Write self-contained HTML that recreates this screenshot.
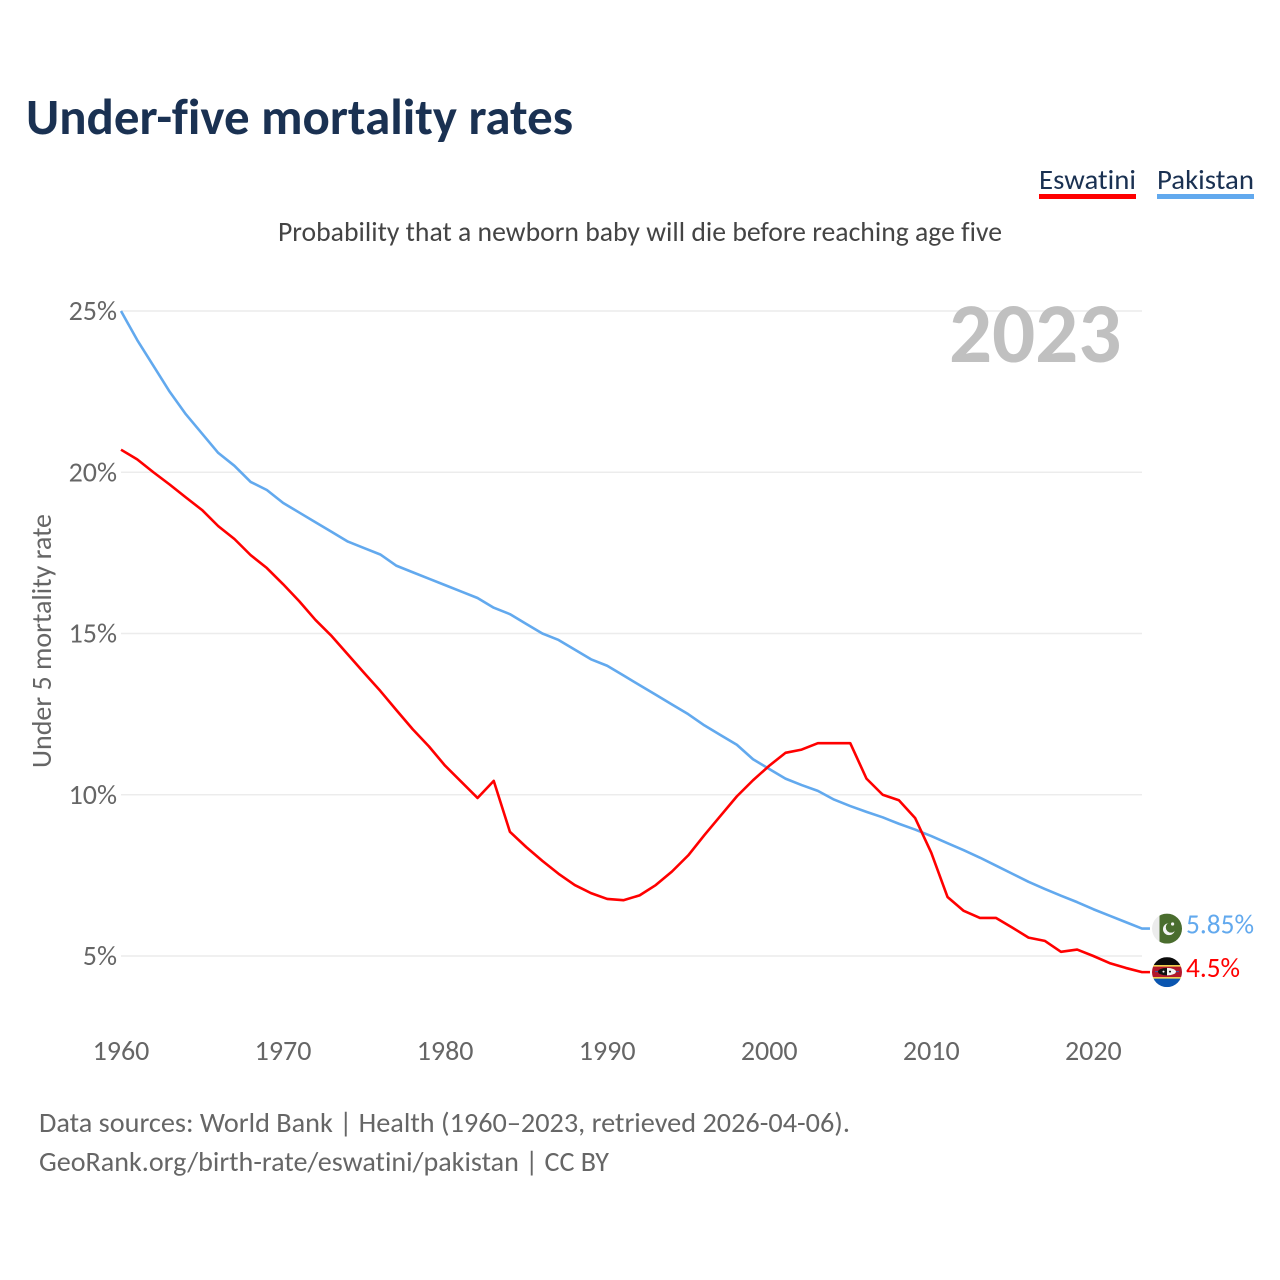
<!DOCTYPE html>
<html lang="en">
<head>
<meta charset="utf-8">
<title>Under-five mortality rates</title>
<style>
html,body{margin:0;padding:0;background:#fff;width:1280px;height:1280px;overflow:hidden}
svg{display:block}
text{font-family:"Carlito","Lato","Liberation Sans",sans-serif;font-variant-ligatures:none}
</style>
</head>
<body>
<svg id="chart" width="1280" height="1280" viewBox="0 0 1280 1280" xmlns="http://www.w3.org/2000/svg">
  <rect width="1280" height="1280" fill="#fff"/>
  <text x="26" y="134" font-size="51" font-weight="700" fill="#1a3152" textLength="547" lengthAdjust="spacingAndGlyphs">Under-five mortality rates</text>
  <g>
    <g>
      <text x="1039" y="189" font-size="28" fill="#1a3152" textLength="97" lengthAdjust="spacingAndGlyphs">Eswatini</text>
      <rect x="1039" y="194" width="97" height="5" fill="#ff0000"/>
    </g>
    <g>
      <text x="1157" y="189" font-size="28" fill="#1a3152" textLength="97" lengthAdjust="spacingAndGlyphs">Pakistan</text>
      <rect x="1157" y="194" width="97" height="5" fill="#62a9ee"/>
    </g>
  </g>
  <text x="278" y="241" font-size="28" fill="#444" textLength="724" lengthAdjust="spacingAndGlyphs">Probability that a newborn baby will die before reaching age five</text>
  <g id="grid"></g>
  <g id="yticks"></g>
  <g id="xticks"></g>
  <text x="0" y="0" transform="translate(51,641) rotate(-90)" text-anchor="middle" font-size="28" fill="#666" textLength="254" lengthAdjust="spacingAndGlyphs">Under 5 mortality rate</text>
  <text x="949" y="362" font-size="85" font-weight="700" fill="#c0c0c0">2023</text>
  <g id="series"></g>
  <g id="flag-pakistan">
    <clipPath id="clip-pk"><circle cx="0" cy="0" r="15"/></clipPath>
    <g clip-path="url(#clip-pk)">
      <rect x="-15" y="-15" width="30" height="30" fill="#ececec"/>
      <rect x="-7.5" y="-15" width="22.5" height="30" fill="#4a6d2e"/>
      <circle cx="2" cy="0.5" r="6" fill="#f4f4f4"/>
      <circle cx="4" cy="-1.2" r="5.2" fill="#4a6d2e"/>
      <circle cx="5.6" cy="-4.6" r="1.6" fill="#f4f4f4"/>
    </g>
  </g>
  <g id="flag-eswatini">
    <clipPath id="clip-sz"><circle cx="0" cy="0" r="15"/></clipPath>
    <g clip-path="url(#clip-sz)">
      <rect x="-15" y="-15" width="30" height="8" fill="#0b0b0b"/>
      <rect x="-15" y="-7" width="30" height="1.5" fill="#f2cf3c"/>
      <rect x="-15" y="-5.5" width="30" height="10.5" fill="#b3182b"/>
      <rect x="-15" y="5" width="30" height="1.5" fill="#f2cf3c"/>
      <rect x="-15" y="6.5" width="30" height="8.5" fill="#0a55b0"/>
      <ellipse cx="0" cy="-0.5" rx="9" ry="3.8" fill="#111"/>
      <path d="M0 -4.3 A9 3.8 0 0 1 0 3.3 Z" fill="#f4f4f4"/>
      <circle cx="-3.5" cy="-0.5" r="1" fill="#f4f4f4"/>
      <circle cx="3" cy="-0.5" r="1" fill="#111"/>
      <rect x="-12" y="-1" width="3" height="1" fill="#3a5fa8"/>
      <rect x="9" y="-1" width="3" height="1" fill="#3a5fa8"/>
    </g>
  </g>
  <g id="end-labels"></g>
  <text x="39" y="1132" font-size="28" fill="#666" textLength="811" lengthAdjust="spacingAndGlyphs">Data sources: World Bank | Health (1960–2023, retrieved 2026-04-06).</text>
  <text x="39" y="1171" font-size="28" fill="#666" textLength="570" lengthAdjust="spacingAndGlyphs">GeoRank.org/birth-rate/eswatini/pakistan | CC BY</text>
</svg>
<script>
const startYear = 1960;
const pakistan = [25,24.1,23.3,22.5,21.8,21.2,20.6,20.2,19.7,19.45,19.05,18.75,18.45,18.15,17.85,17.65,17.45,17.1,16.9,16.7,16.5,16.3,16.1,15.8,15.6,15.3,15,14.8,14.5,14.2,14,13.7,13.4,13.1,12.8,12.5,12.15,11.85,11.55,11.1,10.8,10.5,10.3,10.12,9.85,9.65,9.47,9.3,9.1,8.92,8.72,8.5,8.28,8.05,7.8,7.55,7.3,7.08,6.87,6.67,6.45,6.25,6.05,5.85];
const eswatini = [20.7,20.4,20,19.62,19.22,18.83,18.33,17.93,17.43,17.03,16.53,16,15.42,14.92,14.35,13.78,13.22,12.62,12.03,11.5,10.9,10.4,9.9,10.43,8.85,8.38,7.95,7.55,7.2,6.95,6.77,6.73,6.88,7.2,7.62,8.12,8.75,9.35,9.95,10.45,10.9,11.3,11.4,11.6,11.6,11.6,10.5,10,9.83,9.28,8.2,6.83,6.4,6.18,6.18,5.88,5.57,5.47,5.13,5.2,5,4.78,4.63,4.5];
const yTickValues = [5,10,15,20,25];
const yTickLabels = ['5%','10%','15%','20%','25%'];
const xTickValues = [1960,1970,1980,1990,2000,2010,2020];
const xTickLabels = ['1960','1970','1980','1990','2000','2010','2020'];
const pakistanLabel = '5.85%';
const eswatiniLabel = '4.5%';

const NS = 'http://www.w3.org/2000/svg';
function xScale(year){ return 121 + (year - 1960) * 16.206; }
function yScale(v){ return 956 - (v - 5) * 32.25; }
function make(tag, attrs, parent){
  const el = document.createElementNS(NS, tag);
  for (const k in attrs) el.setAttribute(k, attrs[k]);
  parent.appendChild(el);
  return el;
}
const grid = document.getElementById('grid');
const yticks = document.getElementById('yticks');
const xticks = document.getElementById('xticks');
const series = document.getElementById('series');
const endLabels = document.getElementById('end-labels');

yTickValues.forEach(function(v, i){
  const line = make('line', {x1:121, x2:1142, y1:yScale(v), y2:yScale(v), stroke:'#ececec', 'stroke-width':1.5}, grid);
  
  
  const t = make('text', {x:117, y:yScale(v)+9, 'text-anchor':'end', 'font-size':28, fill:'#666'}, yticks);
  
  
  t.textContent = yTickLabels[i];
});
xTickValues.forEach(function(v, i){
  const t = make('text', {x:xScale(v), y:1060, 'text-anchor':'middle', 'font-size':28, fill:'#666'}, xticks);
  
  
  t.textContent = xTickLabels[i];
});
function drawSeries(values, color, name){
  let d = '';
  values.forEach(function(v, i){
    d += (i ? 'L' : 'M') + xScale(startYear + i).toFixed(2) + ' ' + yScale(v).toFixed(2);
  });
  const lastY = yScale(values[values.length - 1]);
  d += 'L' + (xScale(startYear + values.length - 1) + 8).toFixed(2) + ' ' + lastY.toFixed(2);
  const p = make('path', {d:d, fill:'none', stroke:color, 'stroke-width':2.6, 'stroke-linejoin':'round'}, series);
  
  
  return lastY;
}
const pkY = drawSeries(pakistan, '#62a9ee', 'line-pakistan');
const szY = drawSeries(eswatini, '#ff0000', 'line-eswatini');
document.getElementById('flag-pakistan').setAttribute('transform', 'translate(1167,' + pkY + ')');
document.getElementById('flag-eswatini').setAttribute('transform', 'translate(1167,' + szY + ')');
const pkLabel = make('text', {x:1186, y:pkY+5, 'font-size':28, fill:'#62a9ee', textLength:68, lengthAdjust:'spacingAndGlyphs'}, endLabels);


pkLabel.textContent = pakistanLabel;
const szLabel = make('text', {x:1186, y:szY+5, 'font-size':28, fill:'#ff0000', textLength:54, lengthAdjust:'spacingAndGlyphs'}, endLabels);


szLabel.textContent = eswatiniLabel;
</script>
</body>
</html>
